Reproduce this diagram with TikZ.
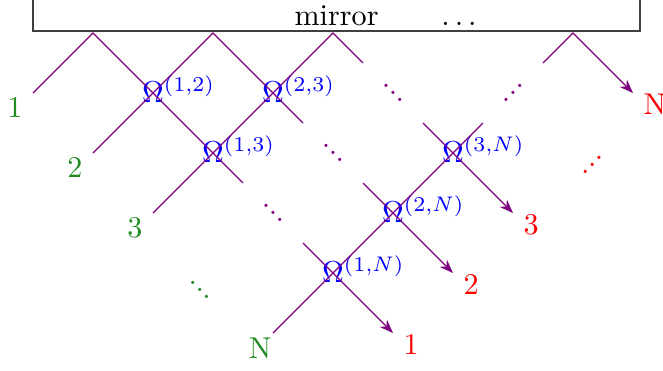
\documentclass[tikz,border=0pt]{standalone}
\usepackage{amsmath}
\usetikzlibrary{arrows.meta,positioning}
\definecolor{BeamPurple}{RGB}{128,0,128}
\definecolor{InGreen}{RGB}{34,139,34}
\definecolor{OutRed}{RGB}{255,0,0}
\definecolor{CrossBlue}{RGB}{0,0,255}
\tikzset{
  mirrorbox/.style={draw=black!75, line width=0.5pt},
  beam/.style={draw=BeamPurple, line width=0.45pt},
  beamarr/.style={beam, -{Stealth[length=1.6mm, width=1.2mm]}},
  omega/.style={text=CrossBlue, inner sep=0pt, text height=1.5ex, text depth=0pt},
  inlab/.style={text=InGreen},
  outlab/.style={text=OutRed},
  gapdots/.style={inner sep=0pt, text height=5.6pt, text depth=0pt},
}
% short diagonal dots, down and up
\newcommand{\dd}{\mbox{\raisebox{4.5pt}{.}\kern-0.5pt\raisebox{2.25pt}{.}\kern-0.5pt.}}
\newcommand{\ud}{\mbox{.\kern-0.5pt\raisebox{2.25pt}{.}\kern-0.5pt\raisebox{4.5pt}{.}}}

\begin{document}
\begin{tikzpicture}[x=0.7cm, y=0.7cm]
\useasboundingbox (-1.55,-5.617) rectangle (9.5,0.55);

% ---------------- mirror ----------------
\draw[mirrorbox] (-1,0.033) rectangle (9.12,1.2);
\node[anchor=base] (mirror) at (4.06,0.117) {mirror};
\node[anchor=base] (mdots) at (6.1,0.117) {$\ldots$};

% ---------------- beam splitters ----------------
\node[omega] (o12) at (1,-1) {$\Omega$\rlap{$^{(1,2)}$}};
\node[omega] (o23) at (3,-1) {$\Omega$\rlap{$^{(2,3)}$}};
\node[omega] (o13) at (2,-2) {$\Omega$\rlap{$^{(1,3)}$}};
\node[omega] (o3N) at (6,-2) {$\Omega$\rlap{$^{(3,N)}$}};
\node[omega] (o2N) at (5,-3) {$\Omega$\rlap{$^{(2,N)}$}};
\node[omega] (o1N) at (4,-4) {$\Omega$\rlap{$^{(1,N)}$}};

% entry points, mirror hits, exits
\coordinate (s1) at (-1,-1);  \coordinate (p1) at (0,0);  \coordinate (t1) at (5,-5);
\coordinate (s2) at (0,-2);   \coordinate (p2) at (2,0);  \coordinate (t2) at (6,-4);
\coordinate (s3) at (1,-3);   \coordinate (p3) at (4,0);  \coordinate (t3) at (7,-3);
\coordinate (sN) at (3,-5);   \coordinate (pN) at (8,0);  \coordinate (tN) at (9,-1);
% where the beams break off and pick up again
\coordinate (a1) at (2.5,-2.5); \coordinate (b1) at (3.5,-3.5);
\coordinate (a2) at (3.5,-1.5); \coordinate (b2) at (4.5,-2.5);
\coordinate (a3) at (4.5,-0.5); \coordinate (b3) at (5.5,-1.5);
\coordinate (aN) at (6.5,-1.5); \coordinate (bN) at (7.5,-0.5);

% ---------------- gaps ----------------
\node[gapdots, text=BeamPurple] (d1) at (3,-3) {\dd};
\node[gapdots, text=BeamPurple] (d2) at (4,-2) {\dd};
\node[gapdots, text=BeamPurple] (d3) at (5,-1) {\dd};
\node[gapdots, text=BeamPurple] (dN) at (7,-1) {\ud};
\node[gapdots, text=InGreen] (din) at (1.78,-4.28) {\dd};
\node[gapdots, text=OutRed] (dout) at (8.32,-2.2) {\ud};

% ---------------- in / out labels ----------------
\node[inlab, below left=-2pt and 0pt of s1] (in1) {1};
\node[inlab, below left=-2pt and 0pt of s2] (in2) {2};
\node[inlab, below left=-2pt and 0pt of s3] (in3) {3};
\node[inlab, below left=-2pt and -3pt of sN] (inN) {N};
\node[outlab, below right=-3.2pt and 0pt of t1] (out1) {1};
\node[outlab, below right=-3.2pt and 0pt of t2] (out2) {2};
\node[outlab, below right=-3.2pt and 0pt of t3] (out3) {3};
\node[outlab, below right=-3.2pt and 0pt of tN] (outN) {N};

% ---------------- beams ----------------
\draw[beam] (s1) -- (p1) -- (o12.center) -- (o13.center) -- (a1);
\draw[beamarr] (b1) -- (o1N.center) -- (t1);
\draw[beam] (s2) -- (o12.center) -- (p2) -- (o23.center) -- (a2);
\draw[beamarr] (b2) -- (o2N.center) -- (t2);
\draw[beam] (s3) -- (o13.center) -- (o23.center) -- (p3) -- (a3);
\draw[beamarr] (b3) -- (o3N.center) -- (t3);
\draw[beam] (sN) -- (o1N.center) -- (o2N.center) -- (o3N.center) -- (aN);
\draw[beamarr] (bN) -- (pN) -- (tN);

\end{tikzpicture}
\end{document}
